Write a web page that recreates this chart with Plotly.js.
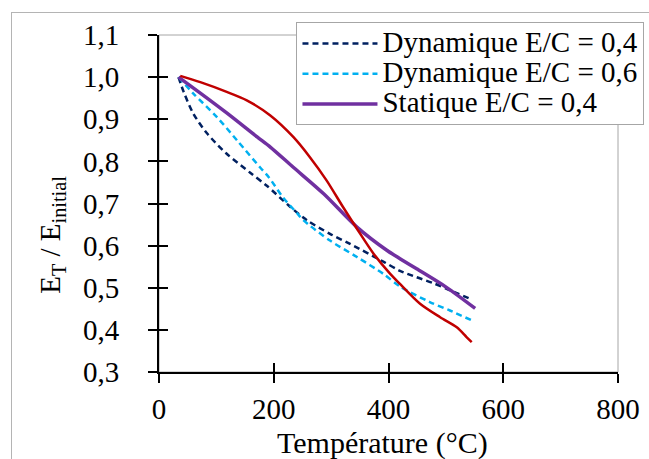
<!DOCTYPE html>
<html>
<head>
<meta charset="utf-8">
<script src="https://cdn.plot.ly/plotly-3.0.1.min.js"></script>
<style>
html,body{margin:0;padding:0;background:#fff;}
#wrap{position:relative;width:649px;height:459px;overflow:hidden;}
#chart{position:absolute;left:0;top:0;width:649px;height:459px;}
#frame{position:absolute;left:11px;top:12px;width:700px;height:500px;border-left:1px solid #b4b4b4;border-top:1px solid #b4b4b4;pointer-events:none;}
</style>
</head>
<body>
<div id="wrap"><div id="chart"></div><div id="frame"></div></div>
<script>
// Dynamique E/C = 0,4
const dyn04X = [34, 43, 60, 84, 118, 159, 188, 228, 258, 298, 333, 391, 420, 449, 478, 507, 542];
const dyn04Y = [1.0, 0.965, 0.913, 0.866, 0.818, 0.773, 0.742, 0.693, 0.66, 0.628, 0.604, 0.562, 0.540, 0.525, 0.511, 0.494, 0.474];
// Dynamique E/C = 0,6
const dyn06X = [34, 60, 101, 136, 176, 191, 217, 240, 252, 298, 345, 391, 420, 472, 507, 546];
const dyn06Y = [1.0, 0.961, 0.905, 0.85, 0.786, 0.763, 0.713, 0.678, 0.66, 0.612, 0.573, 0.533, 0.503, 0.466, 0.446, 0.422];
// Statique E/C = 0,4
const statX = [34, 72, 118, 171, 194, 234, 287, 345, 397, 420, 449, 501, 551];
const statY = [1.0, 0.962, 0.915, 0.858, 0.834, 0.786, 0.723, 0.644, 0.589, 0.569, 0.545, 0.501, 0.451];
// Red curve (no legend entry)
const redX = [37, 72, 118, 153, 194, 234, 263, 292, 321, 347, 374, 403, 420, 455, 490, 519, 536, 545];
const redY = [1.003, 0.988, 0.965, 0.945, 0.909, 0.858, 0.81, 0.755, 0.691, 0.636, 0.581, 0.533, 0.509, 0.462, 0.43, 0.406, 0.383, 0.371];

const names = ['Dynamique E/C = 0,4', 'Dynamique E/C = 0,6', 'Statique E/C = 0,4'];
const xTicks = [0, 200, 400, 600, 800];
const yTicks = [0.3, 0.4, 0.5, 0.6, 0.7, 0.8, 0.9, 1.0, 1.1];

const FONT = 'Liberation Serif';
const big = s => '<span style="font-size:29px">' + s + '</span>';

const traces = [
  {x: dyn04X, y: dyn04Y, name: big(names[0]), mode: 'lines', line: {color: '#002060', width: 2.5, dash: '6px,4px', shape: 'spline', smoothing: 0.8}},
  {x: dyn06X, y: dyn06Y, name: big(names[1]), mode: 'lines', line: {color: '#00b0f0', width: 2.5, dash: '6px,4px', shape: 'spline', smoothing: 0.8}},
  {x: statX, y: statY, name: big(names[2]), mode: 'lines', line: {color: '#7030a0', width: 3.5, shape: 'spline', smoothing: 0.8}},
  {x: redX, y: redY, name: '', mode: 'lines', showlegend: false, line: {color: '#c00000', width: 2.5, shape: 'spline', smoothing: 0.8}},
  {x: [], y: [], xaxis: 'x2', yaxis: 'y2', showlegend: false, hoverinfo: 'skip'}
];

const axCommon = {
  showgrid: false, zeroline: false, showline: true, linecolor: '#000', linewidth: 2,
  ticks: 'outside', ticklen: 9, tickwidth: 2, tickcolor: '#000',
  tickfont: {family: FONT, size: 29, color: '#000'}
};

const layout = {
  width: 649, height: 459,
  margin: {l: 159, r: 31, t: 35, b: 87, autoexpand: false},
  paper_bgcolor: 'rgba(0,0,0,0)', plot_bgcolor: '#fff',
  separators: ', ',
  showlegend: true,
  font: {family: FONT, size: 29, color: '#000'},
  xaxis: Object.assign({}, axCommon, {range: [0, 800], tickvals: xTicks, ticklabelstandoff: 1}),
  yaxis: Object.assign({}, axCommon, {range: [0.3, 1.1], tickvals: yTicks, tickformat: '.1f', ticklabelstandoff: 23}),
  xaxis2: {overlaying: 'x', anchor: 'y2', side: 'bottom', range: [0, 800], tickvals: xTicks, ticks: 'inside', ticklen: 9, tickwidth: 2, tickcolor: '#000', showticklabels: false, showgrid: false, zeroline: false, showline: false},
  yaxis2: {overlaying: 'y', anchor: 'x2', side: 'left', range: [0.3, 1.1], tickvals: yTicks, ticks: 'inside', ticklen: 9, tickwidth: 2, tickcolor: '#000', showticklabels: false, showgrid: false, zeroline: false, showline: false},
  legend: {
    x: 0.2995, y: 1.0377, xanchor: 'left', yanchor: 'top',
    bgcolor: '#fff', bordercolor: '#a6a6a6', borderwidth: 1,
    font: {family: FONT, size: 21, color: '#000'},
    itemwidth: 75, tracegroupgap: 0
  },
  shapes: [
    {type: 'rect', xref: 'paper', yref: 'paper', x0: 0, x1: 1, y0: 0, y1: 1, line: {color: '#a6a6a6', width: 1}, layer: 'below'}
  ],
  annotations: [
    {text: 'Température (°C)', xref: 'paper', yref: 'paper', x: 0.488, y: -0.2664, xanchor: 'center', yanchor: 'bottom', showarrow: false, font: {family: FONT, size: 30, color: '#000'}},
    {text: 'E<sub>T</sub> / E<sub>initial</sub>', xref: 'paper', yref: 'paper', x: -0.232, y: 0.4056, xanchor: 'center', yanchor: 'middle', textangle: -90, showarrow: false, font: {family: FONT, size: 29, color: '#000'}}
  ]
};

Plotly.newPlot('chart', traces, layout, {displayModeBar: false, staticPlot: true});
</script>
</body>
</html>
